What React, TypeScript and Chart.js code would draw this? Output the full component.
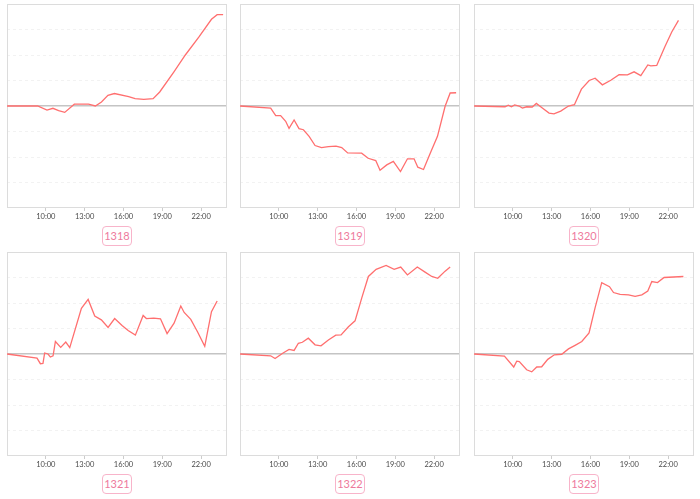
import React, { useEffect, useRef } from "react";
import { Chart, registerables } from "chart.js";

Chart.register(...registerables);

// Tick hours on the x axis (labels "HH:00")
const tickHours = [10, 13, 16, 19, 22];
const axisStartHour = 7;
const axisEndHour = 24;
const yMin = -4;
const yMax = 4;

// Series 1318
const t1318 = [7, 9.37, 10.09, 10.55, 10.99, 11.46, 12.2, 13.3, 13.83, 14.3, 14.8, 15.3, 16.4, 16.9, 17.57, 18.29, 18.8, 19.9, 20.78, 21.82, 22.8, 23.24, 23.7];
const v1318 = [0, 0, -0.16, -0.09, -0.18, -0.25, 0.07, 0.07, 0, 0.16, 0.42, 0.49, 0.37, 0.29, 0.26, 0.29, 0.55, 1.34, 2.0, 2.7, 3.4, 3.58, 3.58];

// Series 1319
const t1319 = [7, 9.37, 9.76, 10.14, 10.53, 10.79, 11.18, 11.56, 11.9, 12.34, 12.8, 13.3, 13.83, 14.42, 14.86, 15.32, 16.4, 16.9, 17.49, 17.82, 18.34, 18.85, 19.4, 19.94, 20.45, 20.74, 21.18, 21.7, 22.26, 22.85, 23.24, 23.7];
const v1319 = [0, -0.08, -0.38, -0.38, -0.6, -0.88, -0.55, -0.89, -0.93, -1.19, -1.55, -1.63, -1.59, -1.57, -1.63, -1.84, -1.85, -2.05, -2.14, -2.52, -2.31, -2.17, -2.57, -2.07, -2.07, -2.4, -2.49, -1.85, -1.19, -0.01, 0.51, 0.52];

// Series 1320
const t1320 = [7, 9.4, 9.65, 9.89, 10.14, 10.48, 10.74, 11.07, 11.5, 11.82, 12.28, 12.8, 13.18, 13.7, 14.3, 14.76, 15.3, 15.9, 16.36, 16.92, 17.57, 18.21, 18.86, 19.37, 19.89, 20.43, 20.66, 21.12, 21.74, 22.28, 22.8];
const v1320 = [0, -0.03, 0.03, -0.03, 0.04, 0, -0.08, -0.03, -0.04, 0.1, -0.08, -0.28, -0.31, -0.2, 0, 0.05, 0.66, 1.0, 1.09, 0.83, 1.01, 1.23, 1.22, 1.34, 1.19, 1.61, 1.57, 1.59, 2.31, 2.9, 3.36];

// Series 1321
const t1321 = [7, 9.32, 9.58, 9.78, 9.91, 10.17, 10.35, 10.56, 10.74, 11.15, 11.54, 11.85, 12.75, 13.27, 13.78, 14.29, 14.81, 15.32, 15.89, 16.36, 16.92, 17.52, 17.77, 18.34, 18.86, 19.37, 19.91, 20.43, 20.69, 21.2, 21.72, 22.28, 22.8, 23.24];
const v1321 = [0, -0.16, -0.38, -0.37, 0.04, 0, -0.12, -0.07, 0.49, 0.26, 0.47, 0.25, 1.79, 2.14, 1.49, 1.34, 1.04, 1.39, 1.12, 0.92, 0.74, 1.51, 1.39, 1.41, 1.38, 0.8, 1.21, 1.88, 1.63, 1.36, 0.87, 0.3, 1.66, 2.08];

// Series 1322
const t1322 = [7, 9.37, 9.71, 10.3, 10.79, 11.18, 11.51, 11.82, 12.28, 12.8, 13.26, 13.83, 14.4, 14.81, 15.38, 15.89, 16.41, 16.92, 17.52, 18.29, 18.91, 19.42, 19.94, 20.7, 21.3, 21.82, 22.28, 22.85, 23.24];
const v1322 = [0, -0.07, -0.18, 0.03, 0.18, 0.14, 0.42, 0.46, 0.62, 0.36, 0.32, 0.55, 0.74, 0.75, 1.07, 1.3, 2.2, 3.04, 3.32, 3.47, 3.32, 3.41, 3.1, 3.41, 3.21, 3.04, 2.97, 3.25, 3.41];

// Series 1323
const t1323 = [7, 9.35, 10.07, 10.3, 10.5, 11.07, 11.46, 11.85, 12.23, 12.7, 13.21, 13.78, 14.3, 14.81, 15.33, 15.89, 16.36, 16.87, 17.47, 17.78, 18.29, 18.94, 19.45, 19.97, 20.43, 20.74, 21.18, 21.69, 23.18];
const v1323 = [0, -0.08, -0.51, -0.28, -0.3, -0.62, -0.7, -0.51, -0.5, -0.21, -0.03, -0.01, 0.2, 0.34, 0.49, 0.83, 1.82, 2.8, 2.64, 2.41, 2.34, 2.32, 2.26, 2.32, 2.47, 2.84, 2.8, 3.0, 3.04];

const codes = ["1318", "1319", "1320", "1321", "1322", "1323"];
const times = [t1318, t1319, t1320, t1321, t1322, t1323];
const values = [v1318, v1319, v1320, v1321, v1322, v1323];

const framePlugin = {
  id: "frame",
  beforeDatasetsDraw(chart: any) {
    const { ctx, chartArea } = chart;
    const { left, top, right, bottom } = chartArea;
    ctx.save();
    ctx.strokeStyle = "#dcdcdc";
    ctx.lineWidth = 1;
    ctx.strokeRect(Math.round(left) + 0.5, Math.round(top) + 0.5, Math.round(right - left) - 1, Math.round(bottom - top) - 1);
    ctx.restore();
  },
};

function MiniChart({ index }: { index: number }) {
  const ref = useRef<HTMLCanvasElement | null>(null);
  useEffect(() => {
    if (!ref.current) return;
    const pts = times[index].map((t, i) => ({ x: t, y: values[index][i] }));
    const chart = new Chart(ref.current, {
      type: "line",
      data: {
        datasets: [
          {
            data: pts,
            borderColor: "#ff6f6f",
            borderWidth: 1.3,
            pointRadius: 0,
            tension: 0,
            fill: false,
          },
        ],
      },
      options: {
        responsive: false,
        animation: false,
        events: [],
        layout: { padding: { left: 1, right: 1, top: 1, bottom: 0 } },
        plugins: { legend: { display: false }, tooltip: { enabled: false }, title: { display: false } },
        scales: {
          x: {
            type: "linear",
            min: axisStartHour,
            max: axisEndHour,
            afterBuildTicks: (scale: any) => {
              scale.ticks = tickHours.map((h) => ({ value: h }));
            },
            afterFit: (scale: any) => {
              scale.height = 14;
            },
            ticks: {
              autoSkip: false,
              maxRotation: 0,
              padding: 1,
              color: "#4a4a4a",
              font: { family: "Lato, 'Noto Sans', sans-serif", size: 7.5 },
              callback: (v: any) => `${v}:00`,
            },
            grid: { display: true, drawOnChartArea: false, drawTicks: true, tickLength: 3, color: "#cccccc" },
            border: { display: false },
          },
          y: {
            type: "linear",
            min: yMin,
            max: yMax,
            ticks: { display: false, stepSize: 1 },
            grid: {
              drawTicks: false,
              color: (ctx: any) => {
                const v = ctx.tick ? ctx.tick.value : null;
                if (v === 0) return "#c4c4c4";
                if (v === yMin || v === yMax) return "rgba(0,0,0,0)";
                return "#f2f2f2";
              },
              lineWidth: (ctx: any) => (ctx.tick && ctx.tick.value === 0 ? 1.6 : 1),
            },
            border: {
              display: false,
              dash: (ctx: any) => (ctx.tick && ctx.tick.value === 0 ? [] : [3, 3]),
            },
          },
        },
      },
      plugins: [framePlugin],
    } as any);
    return () => chart.destroy();
  }, [index]);

  const col = index % 3;
  const row = Math.floor(index / 3);
  const cellLeft = col * (700 / 3);
  const cellTop = row * 248;
  const frameLeft = Math.round(cellLeft + 7);
  return (
    <>
      <canvas
        ref={ref}
        width={222}
        height={219}
        style={{ position: "absolute", left: frameLeft - 1, top: cellTop + 3, width: 222, height: 219 }}
      />
      <div
        style={{
          position: "absolute",
          left: frameLeft + 110 - 15,
          top: cellTop + 226,
          width: 28,
          height: 18,
          border: "1px solid #f8b4ca",
          borderRadius: 4,
          color: "#ee7a9c",
          fontFamily: "Lato, 'Noto Sans', sans-serif",
          fontSize: 11,
          lineHeight: "18px",
          textAlign: "center",
          background: "#fff",
        }}
      >
        {codes[index]}
      </div>
    </>
  );
}

export default function App() {
  return (
    <div style={{ position: "absolute", left: 0, top: 0, width: 700, height: 499, background: "#fff", overflow: "hidden" }}>
      {codes.map((c, i) => (
        <MiniChart key={c} index={i} />
      ))}
    </div>
  );
}
